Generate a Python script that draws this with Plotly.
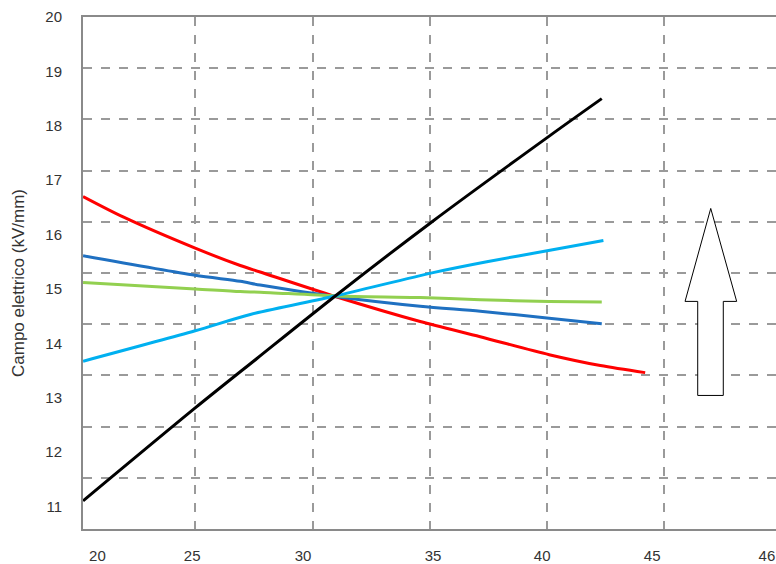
import plotly.graph_objects as go

# ---- data ----
black_x = [20.22, 25.0, 27.63, 30.97, 35.14, 40.12, 42.33]
black_y = [11.10, 12.81, 13.72, 14.87, 16.25, 17.82, 18.50]

red_x = [20.22, 21.95, 25.0, 26.92, 27.77, 30.97, 34.59, 37.15, 40.09, 42.27, 44.18]
red_y = [16.70, 16.32, 15.75, 15.43, 15.31, 14.86, 14.40, 14.12, 13.79, 13.59, 13.46]

blue_x = [20.22, 25.0, 26.92, 27.77, 30.97, 34.59, 37.15, 40.09, 42.33]
blue_y = [15.61, 15.25, 15.14, 15.07, 14.86, 14.68, 14.59, 14.46, 14.36]

green_x = [20.22, 25.0, 26.92, 27.77, 30.97, 34.59, 37.15, 40.09, 42.33]
green_y = [15.12, 15.00, 14.95, 14.94, 14.87, 14.84, 14.80, 14.77, 14.76]

cyan_x = [20.22, 25.0, 27.35, 30.97, 35.14, 37.43, 40.12, 42.40]
cyan_y = [13.67, 14.23, 14.53, 14.87, 15.30, 15.50, 15.71, 15.89]

x_tick_text = ["20", "25", "30", "35", "40", "45", "46"]
x_tick_vals = [20.83, 24.87, 29.6, 35.14, 39.79, 44.48, 49.37]
y_tick_vals = [11, 12, 13, 14, 15, 16, 17, 18, 19, 20]
y_title = "Campo elettrico (kV/mm)"

X_RANGE = [20.217, 49.757]
Y_RANGE = [10.583, 20.002]

fig = go.Figure()

# invisible trace so the grid axes (x, y) are drawn
fig.add_trace(go.Scatter(x=[X_RANGE[0]], y=[0], mode="markers", marker=dict(opacity=0),
                         hoverinfo="skip", showlegend=False))

series = [
    (black_x, black_y, "#000000"),
    (red_x, red_y, "#FF0000"),
    (blue_x, blue_y, "#1F70C1"),
    (green_x, green_y, "#92D050"),
    (cyan_x, cyan_y, "#00B0F0"),
]
order = [1, 2, 3, 4, 0]
for i in order:
    xs, ys, col = series[i]
    fig.add_trace(go.Scatter(x=xs, y=ys, mode="lines", xaxis="x2", yaxis="y2",
                             line=dict(color=col, width=3, shape="spline", smoothing=0.8),
                             hoverinfo="skip", showlegend=False))

# arrow (decoration)
arrow_pts = [(46.975, 16.48), (48.08, 14.77), (47.51, 14.77), (47.51, 13.04),
             (46.42, 13.04), (46.42, 14.77), (45.88, 14.77)]
path = "M " + " L ".join(f"{x},{y}" for x, y in arrow_pts) + " Z"
fig.add_shape(type="path", path=path, xref="x2", yref="y2",
              line=dict(color="#000000", width=1), fillcolor="white")

# y-axis title
fig.add_annotation(text=y_title, textangle=-90, xref="paper", yref="paper",
                   x=0, y=0.4805, xanchor="center", yanchor="middle", xshift=-64,
                   showarrow=False, font=dict(size=17, color="#333333"))

grid_style = dict(showgrid=True, gridcolor="#9a9a9a", gridwidth=1.5, griddash="dash",
                  showticklabels=False, ticks="", zeroline=False)

fig.update_layout(
    width=776, height=564,
    margin=dict(l=83, r=0, t=17, b=33),
    paper_bgcolor="white", plot_bgcolor="white",
    font=dict(family="Liberation Sans, Arial, sans-serif", size=15, color="#333333"),
    xaxis=dict(range=X_RANGE, tick0=0, dtick=5, showline=True, mirror=True,
               linecolor="#8a8a8a", linewidth=2, **grid_style),
    yaxis=dict(range=[0, 10], tick0=0, dtick=1, showline=True, mirror=False,
               linecolor="#8a8a8a", linewidth=2, **grid_style),
    xaxis2=dict(range=X_RANGE, overlaying="x", anchor="y2", side="bottom",
                tickmode="array", tickvals=x_tick_vals, ticktext=x_tick_text,
                showgrid=False, zeroline=False, ticks="", ticklabelstandoff=16,
                showline=False),
    yaxis2=dict(range=Y_RANGE, overlaying="y", anchor="x2", side="left",
                tickmode="array", tickvals=y_tick_vals,
                showgrid=False, zeroline=False, ticks="", ticklabelstandoff=20,
                showline=False),
)

fig.write_html("out.html", config={"displayModeBar": False},
               post_script="document.body.style.margin='0px';")
